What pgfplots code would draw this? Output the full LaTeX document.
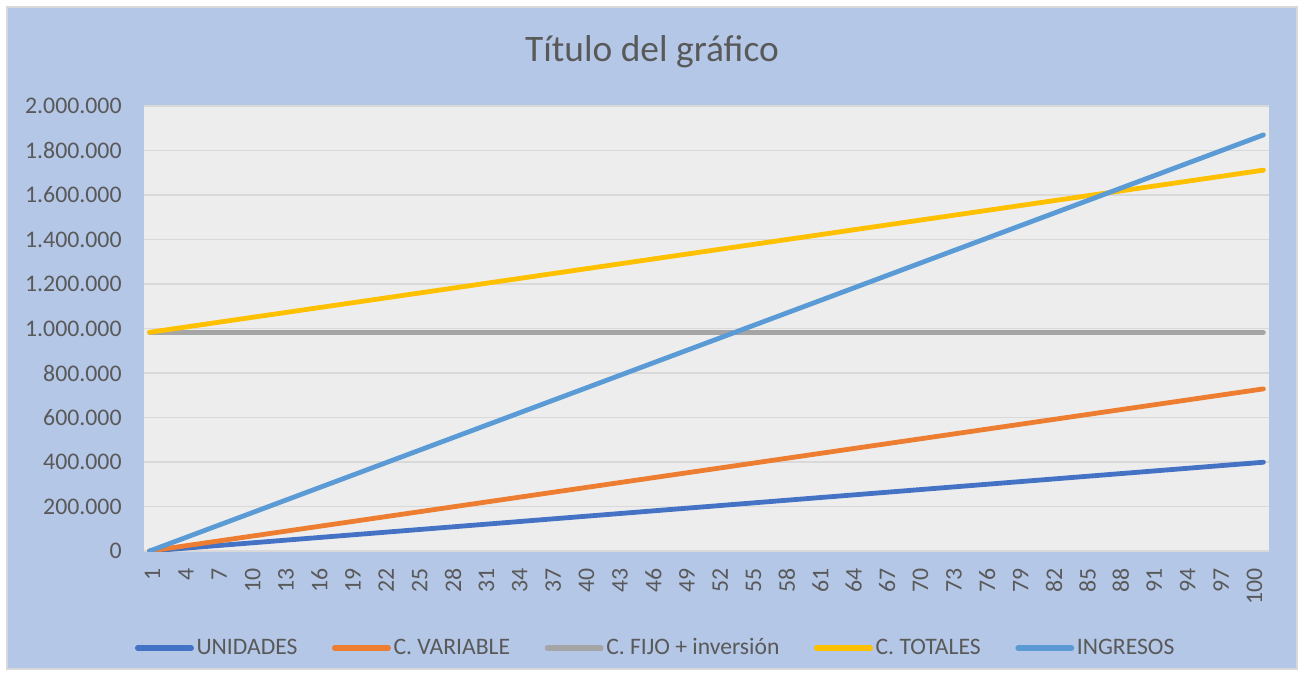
\documentclass[border=0pt]{standalone}
\usepackage{fontspec}
\setmainfont{Carlito}
\usepackage{pgfplots}
\usepackage{pgfplotstable}
\pgfplotsset{compat=1.18}
\definecolor{chartbg}{HTML}{B4C7E7}
\definecolor{plotbg}{HTML}{EDEDED}
\definecolor{gridc}{HTML}{D9D9D9}
\definecolor{txt}{HTML}{595959}
\definecolor{cU}{HTML}{4472C4}
\definecolor{cV}{HTML}{ED7D31}
\definecolor{cF}{HTML}{A5A5A5}
\definecolor{cT}{HTML}{FFC000}
\definecolor{cI}{HTML}{5B9BD5}

\pgfplotstableread{
n u cv cf ct ing
1 0 0 983000 983000 0
2 4030 7360 983000 990360 18890
3 8060 14720 983000 997720 37780
4 12090 22080 983000 1005080 56670
5 16120 29440 983000 1012440 75560
6 20150 36800 983000 1019800 94450
7 24180 44160 983000 1027160 113340
8 28210 51520 983000 1034520 132230
9 32240 58880 983000 1041880 151120
10 36270 66240 983000 1049240 170010
11 40300 73600 983000 1056600 188900
12 44330 80960 983000 1063960 207790
13 48360 88320 983000 1071320 226680
14 52390 95680 983000 1078680 245570
15 56420 103040 983000 1086040 264460
16 60450 110400 983000 1093400 283350
17 64480 117760 983000 1100760 302240
18 68510 125120 983000 1108120 321130
19 72540 132480 983000 1115480 340020
20 76570 139840 983000 1122840 358910
21 80600 147200 983000 1130200 377800
22 84630 154560 983000 1137560 396690
23 88660 161920 983000 1144920 415580
24 92690 169280 983000 1152280 434470
25 96720 176640 983000 1159640 453360
26 100750 184000 983000 1167000 472250
27 104780 191360 983000 1174360 491140
28 108810 198720 983000 1181720 510030
29 112840 206080 983000 1189080 528920
30 116870 213440 983000 1196440 547810
31 120900 220800 983000 1203800 566700
32 124930 228160 983000 1211160 585590
33 128960 235520 983000 1218520 604480
34 132990 242880 983000 1225880 623370
35 137020 250240 983000 1233240 642260
36 141050 257600 983000 1240600 661150
37 145080 264960 983000 1247960 680040
38 149110 272320 983000 1255320 698930
39 153140 279680 983000 1262680 717820
40 157170 287040 983000 1270040 736710
41 161200 294400 983000 1277400 755600
42 165230 301760 983000 1284760 774490
43 169260 309120 983000 1292120 793380
44 173290 316480 983000 1299480 812270
45 177320 323840 983000 1306840 831160
46 181350 331200 983000 1314200 850050
47 185380 338560 983000 1321560 868940
48 189410 345920 983000 1328920 887830
49 193440 353280 983000 1336280 906720
50 197470 360640 983000 1343640 925610
51 201500 368000 983000 1351000 944500
52 205530 375360 983000 1358360 963390
53 209560 382720 983000 1365720 982280
54 213590 390080 983000 1373080 1001170
55 217620 397440 983000 1380440 1020060
56 221650 404800 983000 1387800 1038950
57 225680 412160 983000 1395160 1057840
58 229710 419520 983000 1402520 1076730
59 233740 426880 983000 1409880 1095620
60 237770 434240 983000 1417240 1114510
61 241800 441600 983000 1424600 1133400
62 245830 448960 983000 1431960 1152290
63 249860 456320 983000 1439320 1171180
64 253890 463680 983000 1446680 1190070
65 257920 471040 983000 1454040 1208960
66 261950 478400 983000 1461400 1227850
67 265980 485760 983000 1468760 1246740
68 270010 493120 983000 1476120 1265630
69 274040 500480 983000 1483480 1284520
70 278070 507840 983000 1490840 1303410
71 282100 515200 983000 1498200 1322300
72 286130 522560 983000 1505560 1341190
73 290160 529920 983000 1512920 1360080
74 294190 537280 983000 1520280 1378970
75 298220 544640 983000 1527640 1397860
76 302250 552000 983000 1535000 1416750
77 306280 559360 983000 1542360 1435640
78 310310 566720 983000 1549720 1454530
79 314340 574080 983000 1557080 1473420
80 318370 581440 983000 1564440 1492310
81 322400 588800 983000 1571800 1511200
82 326430 596160 983000 1579160 1530090
83 330460 603520 983000 1586520 1548980
84 334490 610880 983000 1593880 1567870
85 338520 618240 983000 1601240 1586760
86 342550 625600 983000 1608600 1605650
87 346580 632960 983000 1615960 1624540
88 350610 640320 983000 1623320 1643430
89 354640 647680 983000 1630680 1662320
90 358670 655040 983000 1638040 1681210
91 362700 662400 983000 1645400 1700100
92 366730 669760 983000 1652760 1718990
93 370760 677120 983000 1660120 1737880
94 374790 684480 983000 1667480 1756770
95 378820 691840 983000 1674840 1775660
96 382850 699200 983000 1682200 1794550
97 386880 706560 983000 1689560 1813440
98 390910 713920 983000 1696920 1832330
99 394940 721280 983000 1704280 1851220
100 398970 728640 983000 1711640 1870110
}\datatable

\begin{document}
\begin{tikzpicture}
\fill[white] (0,0) rectangle (652pt,338pt);
\filldraw[fill=chartbg, draw=gridc, line width=0.75pt] (3.5pt,3.5pt) rectangle (648.5pt,334.5pt);
\node[anchor=base, text=txt, font=\fontsize{18.7}{22}\selectfont, inner sep=0pt] at (326pt,307pt) {Título del gráfico};
\begin{axis}[
  at={(72pt,62.5pt)}, anchor=south west,
  scale only axis, width=562.5pt, height=222.5pt,
  xmin=0.5, xmax=100.5, ymin=0, ymax=2000000,
  xtick={1.258,4.226,7.194,10.162,13.130,16.098,19.066,22.034,25.002,27.970,30.938,33.906,36.874,39.842,42.810,45.778,48.746,51.714,54.682,57.650,60.618,63.586,66.554,69.522,72.490,75.458,78.426,81.394,84.362,87.330,90.298,93.266,96.234,99.202},
  xticklabels={1,4,7,10,13,16,19,22,25,28,31,34,37,40,43,46,49,52,55,58,61,64,67,70,73,76,79,82,85,88,91,94,97,100},
  ytick={0,200000,400000,600000,800000,1000000,1200000,1400000,1600000,1800000,2000000},
  scaled y ticks=false,
  /pgf/number format/fixed,
  /pgf/number format/precision=0,
  /pgf/number format/assume math mode=true,
  /pgf/number format/1000 sep={.},
  axis background/.style={fill=plotbg},
  axis line style={draw=none},
  major tick length=0pt,
  ymajorgrids, grid style={gridc, line width=0.75pt},
  tick label style={text=txt, font=\fontsize{11.9}{14}\selectfont},
  yticklabel style={anchor=east, inner sep=0pt, xshift=-11pt},
  xticklabel style={yshift=-8.5pt, rotate=90, anchor=east, inner sep=0pt},
  no markers,
  legend columns=5,
  legend style={at={(0.4551,-0.218)}, anchor=center, draw=none, fill=none,
    font=\fontsize{11.8}{14}\selectfont, text=txt,
    /tikz/every even column/.append style={column sep=16pt},
    nodes={inner sep=1.3pt}},
  legend image code/.code={\draw[#1, line width=2.8pt, line cap=round] (1.4pt,0pt) -- (28.1pt,0pt);},
]
\addplot[cU, line width=2.4pt, line cap=round, line join=round] table[x=n, y=u] {\datatable};
\addlegendentry{UNIDADES}
\addplot[cV, line width=2.4pt, line cap=round, line join=round] table[x=n, y=cv] {\datatable};
\addlegendentry{C. VARIABLE}
\addplot[cF, line width=2.4pt, line cap=round, line join=round] table[x=n, y=cf] {\datatable};
\addlegendentry{C. FIJO + inversión}
\addplot[cT, line width=2.4pt, line cap=round, line join=round] table[x=n, y=ct] {\datatable};
\addlegendentry{C. TOTALES}
\addplot[cI, line width=2.4pt, line cap=round, line join=round] table[x=n, y=ing] {\datatable};
\addlegendentry{INGRESOS}
\end{axis}
\end{tikzpicture}
\end{document}
